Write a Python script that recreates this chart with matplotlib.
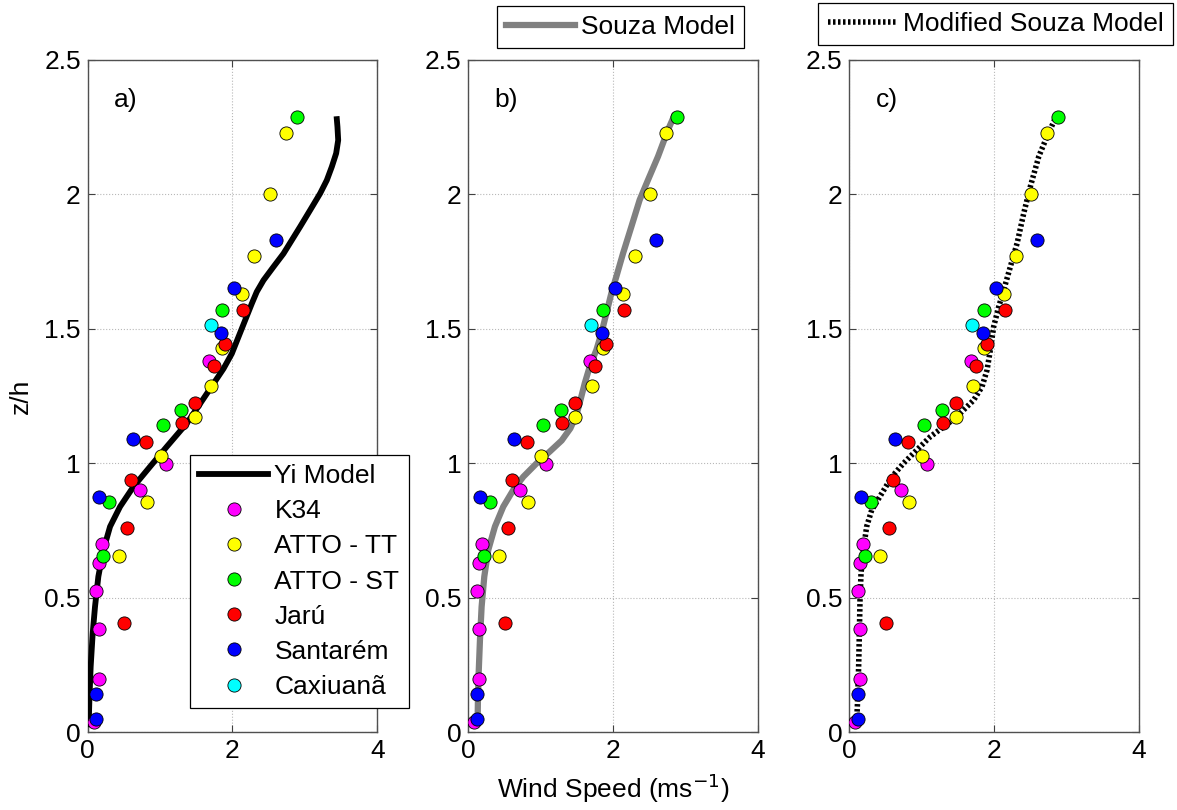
import numpy as np
import matplotlib.pyplot as plt

plt.rcParams['font.family'] = ['Liberation Sans', 'DejaVu Sans']
plt.rcParams['font.size'] = 19

# Observed wind profiles (x: wind speed, y: z/h)
k34_u = [0.083, 0.152, 0.152, 0.115, 0.152, 0.193, 0.717, 1.080, 1.678]
k34_z = [0.037, 0.200, 0.384, 0.524, 0.628, 0.699, 0.902, 0.996, 1.379]

attott_u = [0.428, 0.823, 1.011, 1.480, 1.706, 1.862, 2.133, 2.303, 2.515, 2.736]
attott_z = [0.656, 0.856, 1.027, 1.171, 1.286, 1.428, 1.628, 1.771, 2.000, 2.227]

attost_u = [0.216, 0.294, 1.034, 1.287, 1.857, 2.887]
attost_z = [0.656, 0.856, 1.142, 1.199, 1.571, 2.287]

jaru_u = [0.501, 0.547, 0.602, 0.805, 1.301, 1.476, 1.747, 1.899, 2.152]
jaru_z = [0.408, 0.761, 0.937, 1.079, 1.149, 1.225, 1.362, 1.444, 1.571]

stm_u = [0.115, 0.115, 0.156, 0.625, 1.844, 2.028, 2.598]
stm_z = [0.050, 0.143, 0.876, 1.089, 1.486, 1.651, 1.831]

cax_u = [1.697]
cax_z = [1.515]

# Model profiles
yi_u = [0.014, 0.023, 0.041, 0.069, 0.101, 0.147, 0.217, 0.309, 0.447, 0.631, 0.862,
        1.092, 1.369, 1.553, 1.737, 1.876, 1.991, 2.083, 2.175, 2.267, 2.336, 2.429,
        2.567, 2.705, 2.820, 2.935, 3.074, 3.212, 3.304, 3.373, 3.433, 3.461, 3.451,
        3.442]
yi_z = [0.030, 0.120, 0.244, 0.368, 0.467, 0.579, 0.678, 0.765, 0.839, 0.913, 0.988,
        1.062, 1.149, 1.222, 1.296, 1.352, 1.408, 1.470, 1.532, 1.594, 1.638, 1.681,
        1.731, 1.780, 1.830, 1.880, 1.942, 2.004, 2.053, 2.103, 2.153, 2.202, 2.251,
        2.280]

souza_u = [0.129, 0.133, 0.143, 0.161, 0.184, 0.221, 0.276, 0.368, 0.483, 0.621, 0.759,
           0.943, 1.130, 1.290, 1.410, 1.494, 1.550, 1.609, 1.678, 1.770, 1.839, 1.908,
           1.977, 2.046, 2.138, 2.253, 2.368, 2.483, 2.621, 2.759, 2.840]
souza_z = [0.046, 0.120, 0.219, 0.343, 0.467, 0.579, 0.678, 0.765, 0.839, 0.901, 0.950,
           1.000, 1.045, 1.085, 1.130, 1.180, 1.236, 1.298, 1.360, 1.422, 1.484, 1.558,
           1.633, 1.695, 1.781, 1.880, 1.980, 2.054, 2.141, 2.240, 2.290]

msouza_u = [0.102, 0.115, 0.129, 0.139, 0.148, 0.162, 0.194, 0.240, 0.309, 0.448, 0.587,
            0.748, 0.933, 1.118, 1.303, 1.487, 1.626, 1.718, 1.834, 1.903, 1.949, 1.995,
            2.065, 2.134, 2.226, 2.319, 2.411, 2.503, 2.619, 2.734, 2.850]
msouza_z = [0.040, 0.120, 0.244, 0.368, 0.492, 0.591, 0.678, 0.765, 0.826, 0.888, 0.950,
            1.000, 1.050, 1.099, 1.136, 1.174, 1.211, 1.235, 1.285, 1.347, 1.422, 1.509,
            1.583, 1.645, 1.732, 1.819, 1.931, 2.031, 2.142, 2.217, 2.285]

sites = [
    ('K34', k34_u, k34_z, '#ff00ff'),
    ('ATTO - TT', attott_u, attott_z, '#ffff00'),
    ('ATTO - ST', attost_u, attost_z, '#00ff00'),
    ('Jarú', jaru_u, jaru_z, '#ff0000'),
    ('Santarém', stm_u, stm_z, '#0000ff'),
    ('Caxiuanã', cax_u, cax_z, '#00ffff'),
]

W, H = 1177, 810
fig = plt.figure(figsize=(W / 100, H / 100), dpi=100)

lefts = [87.7, 468.3, 849.3]
ax_w = 289.5
ax_bot, ax_top = 732.3, 60.0
axes = []
for l in lefts:
    ax = fig.add_axes([l / W, 1 - ax_bot / H, ax_w / W, (ax_bot - ax_top) / H])
    axes.append(ax)

def draw_sites(ax):
    for name, u, z, c in sites:
        ax.plot(u, z, 'o', ms=9.5, mfc=c, mec='k', mew=0.6, label=name, zorder=4)

def style(ax, tag):
    ax.set_xlim(0, 4)
    ax.set_ylim(0, 2.5)
    ax.set_xticks([0, 2, 4])
    ax.set_yticks([0, 0.5, 1, 1.5, 2, 2.5])
    ax.set_yticklabels(['0', '0.5', '1', '1.5', '2', '2.5'])
    ax.grid(True, color='#b8b8b8', linestyle=':', linewidth=0.8)
    ax.tick_params(direction='in', top=True, right=True, length=5,
                   color='#404040', labelsize=19, pad=5)
    for s in ax.spines.values():
        s.set_color('#505050')
        s.set_linewidth(1.0)
    ax.text(0.52, 2.35, tag, fontsize=19, ha='center', va='center')

def box_legend(ax, handles, labels, loc, anchor, **kw):
    lg = ax.legend(handles, labels, loc=loc, bbox_to_anchor=anchor,
                   bbox_transform=fig.transFigure, fancybox=False, framealpha=1,
                   edgecolor='k', fontsize=19, handlelength=2.6, handletextpad=0.25,
                   borderpad=0.35, borderaxespad=0, **kw)
    lg.get_frame().set_linewidth(0.9)
    return lg

# a) Yi model
ax = axes[0]
ax.plot(yi_u, yi_z, color='k', lw=4.2, label='Yi Model', zorder=3)
draw_sites(ax)
style(ax, 'a)')
ax.set_ylabel('z/h', fontsize=19, labelpad=8)
h, lab = ax.get_legend_handles_labels()
box_legend(ax, h, lab, 'lower left', (190 / W, 1 - 708 / H), labelspacing=0.42)

# b) Souza model
ax = axes[1]
sz, = ax.plot(souza_u, souza_z, color='#808080', lw=4.5, zorder=3)
draw_sites(ax)
style(ax, 'b)')
ax.set_xlabel('Wind Speed (ms$^{-1}$)', fontsize=19, labelpad=6)
box_legend(ax, [sz], ['Souza Model'], 'lower center', (620.5 / W, 1 - 48 / H))

# c) modified Souza model
ax = axes[2]
ms, = ax.plot(msouza_u, msouza_z, color='k', lw=4.0,
              linestyle=(0, (0.45, 0.45)), zorder=3)
draw_sites(ax)
style(ax, 'c)')
box_legend(ax, [ms], ['Modified Souza Model'], 'lower center', (995.5 / W, 1 - 45 / H))

fig.savefig('out.png', dpi=100)
